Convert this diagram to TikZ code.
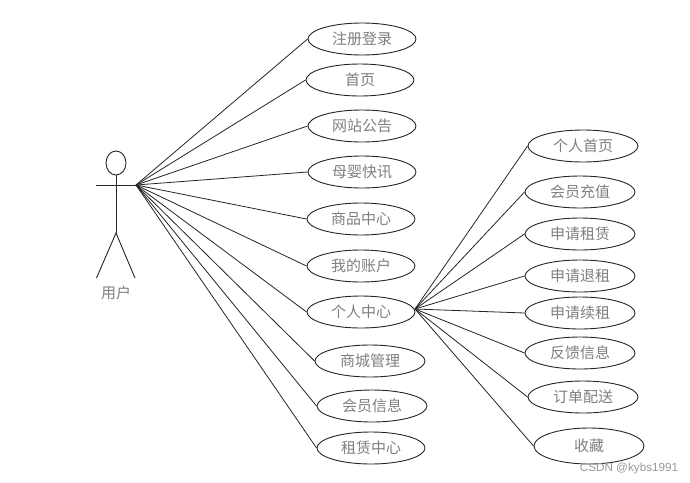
\documentclass[tikz,border=0pt]{standalone}
\usepackage{fontspec}
\setmainfont{Liberation Sans}
\newfontfamily\cjk{Noto Sans CJK SC}
\definecolor{lbl}{gray}{0.5}
\usetikzlibrary{shapes.geometric}
\tikzset{
  usecase/.style={draw=black!85,ellipse,line width=0.9pt,inner sep=0pt,minimum width=108pt,minimum height=32pt,font=\cjk\fontsize{15}{16}\selectfont,text=lbl},
  usecasewide/.style={usecase,minimum width=110pt,minimum height=36pt},
  link/.style={draw=black!85,line width=0.8pt},
  stick/.style={draw=black!85,line width=0.9pt},
  actorlabel/.style={font=\cjk\fontsize{15}{16}\selectfont,text=lbl,inner sep=0pt}
}
\begin{document}
\begin{tikzpicture}[x=1pt,y=-1pt]
\useasboundingbox (0,0) rectangle (690,482);
\fill[white] (0,0) rectangle (690,482);
% actor
\node[draw=black!85,ellipse,line width=0.9pt,minimum width=20pt,minimum height=24pt,inner sep=0pt] (head) at (116,163) {};
\coordinate (hip) at (116,233);
\coordinate (armL) at (96,185);
\coordinate (hub) at (136,185);
\coordinate (footL) at (96.5,278);
\coordinate (footR) at (135,278);
\coordinate (hubb) at (415,309);
\draw[stick] (head.south) -- (hip);
\draw[stick] (armL) -- (hub);
\draw[stick] (footL) -- (hip) -- (footR);
\node[actorlabel] (actor) at (116,293) {用户};
% left column
\node[usecase] (a1) at (362,39) {注册登录};
\node[usecase] (a2) at (360,80) {首页};
\node[usecase] (a3) at (362,126) {网站公告};
\node[usecase] (a4) at (362,172) {母婴快讯};
\node[usecase] (a5) at (361,219) {商品中心};
\node[usecase] (a6) at (361,266) {我的账户};
\node[usecase] (a7) at (361,312) {个人中心};
\node[usecase,minimum width=110pt] (a8) at (370,361) {商城管理};
\node[usecase,minimum width=110pt] (a9) at (372,406) {会员信息};
\node[usecase] (a10) at (371,448) {租赁中心};
% right column
\node[usecase,minimum width=110pt] (b1) at (583,146) {个人首页};
\node[usecase,minimum width=110pt] (b2) at (580,192) {会员充值};
\node[usecase,minimum width=110pt] (b3) at (580,234) {申请租赁};
\node[usecase,minimum width=110pt] (b4) at (580,276) {申请退租};
\node[usecase,minimum width=110pt] (b5) at (580,313) {申请续租};
\node[usecase,minimum width=110pt] (b6) at (580,353) {反馈信息};
\node[usecase,minimum width=110pt] (b7) at (583,397) {订单配送};
\node[usecasewide] (b8) at (589,446) {收藏};
\foreach \n in {a1,a2,a3,a4,a5,a6,a7,a8,a9,a10} \draw[link] (hub) -- (\n.west);
\foreach \n in {b1,b2,b3,b4,b5,b6,b7,b8} \draw[link] (hubb) -- (\n.west);
\node[font=\fontsize{11.7}{13}\selectfont,text=black!40,inner sep=0pt] (wm) at (629,468) {CSDN @kybs1991};
\end{tikzpicture}
\end{document}
